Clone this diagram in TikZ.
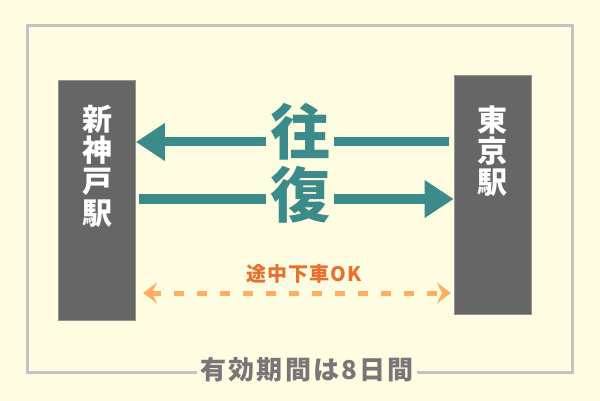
\documentclass[tikz,border=0pt]{standalone}
\usepackage{fontspec}
\newfontfamily\jp{Noto Sans CJK JP}
\newfontfamily\jpwide[LetterSpace=8]{Noto Sans CJK JP}
\newfontfamily\jpmid[LetterSpace=5]{Noto Sans CJK JP}
\usetikzlibrary{arrows.meta}
\definecolor{bg}{HTML}{FFFDE1}
\definecolor{frame}{HTML}{C3C3C3}
\definecolor{bar}{HTML}{666666}
\definecolor{teal}{HTML}{3A8B89}
\definecolor{orangetxt}{HTML}{EA7030}
\definecolor{orangeline}{HTML}{FFAE62}
\definecolor{graytxt}{HTML}{777777}
\tikzset{
  station/.style={fill=bar, draw=bar!70!white, line width=0.8pt, minimum width=77pt, inner sep=0pt},
  stlabel/.style={text=white, font=\jp\bfseries\fontsize{30}{31.3}\selectfont, align=center, inner sep=0pt},
  bigarrow/.style={draw=teal, line width=9pt, -{Triangle[length=29pt,width=36pt]}},
  bigchar/.style={text=teal, fill=bg, font=\jp\bfseries\fontsize{60}{60}\selectfont, inner sep=4pt},
  dasharrow/.style={draw=orangeline, line width=5pt, dash pattern=on 10pt off 13pt, {Stealth[length=14pt,width=21pt,inset=5pt]}-{Stealth[length=14pt,width=21pt,inset=5pt]}},
}
\begin{document}
\begin{tikzpicture}[x=1pt,y=-1pt]
\fill[bg] (0,0) rectangle (600,401);
\useasboundingbox (0,0) rectangle (600,401);
\draw[frame, line width=3pt] (27.5,25.5) rectangle (572,372);
\node[station, minimum height=240pt] (shinkobe) at (97,200) {};
\node[station, minimum height=239pt] (tokyo) at (492.5,194.5) {};
\node[stlabel] (lshin) at (97,166) {新\\神\\戸\\駅};
\node[stlabel] (ltok) at (492.5,151) {東\\京\\駅};
% arrows
\coordinate (a1s) at (449,142);
\coordinate (a1e) at (shinkobe.east |- a1s);
\coordinate (a2s) at (139,199);
\coordinate (a2e) at (tokyo.west |- a2s);
\draw[bigarrow] (a1s) -- (a1e);
\draw[bigarrow] (a2s) -- (a2e);
\node[bigchar] (ou) at (300,132) {往};
\node[bigchar] (fuku) at (300,195) {復};
% dashed
\coordinate (d1) at (143,293);
\coordinate (d2) at (451,293);
\draw[dasharrow] (d1) -- (d2);
\node[text=orangetxt, font=\jpmid\bfseries\fontsize{20}{20}\selectfont, inner sep=0pt] (stop) at (304,274) {途中下車OK};
\node[text=graytxt, fill=bg, font=\jpwide\bfseries\fontsize{26}{26}\selectfont, inner sep=4pt] (valid) at (307,370) {有効期間は8日間};
\end{tikzpicture}
\end{document}
